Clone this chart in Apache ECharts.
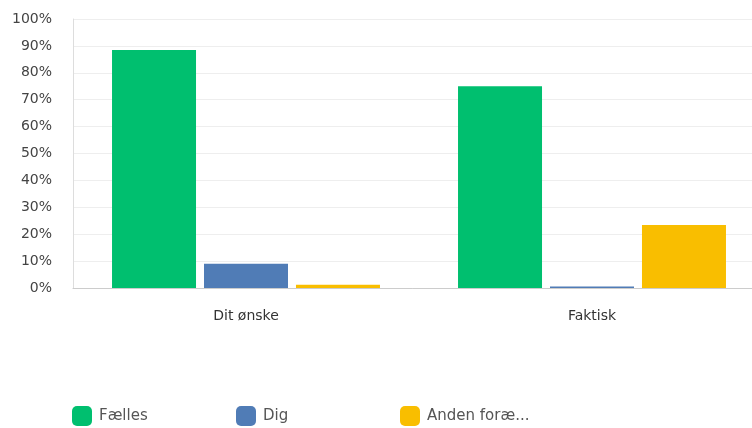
<!DOCTYPE html>
<html><head><meta charset="utf-8">
<script src="https://cdn.jsdelivr.net/npm/echarts@6/dist/echarts.min.js"></script>
<style>html,body{margin:0;padding:0;background:#fff}#c{width:752px;height:428px}</style>
</head><body><div id="c"></div>
<script>
const categories = ['Dit ønske', 'Faktisk'];
const seriesNames = ['Fælles', 'Dig', 'Anden foræ...'];
const faelles = [88.5, 75];
const dig = [9, 0.6];
const anden = [1.2, 23.4];
const yTicks = [0, 10, 20, 30, 40, 50, 60, 70, 80, 90, 100];
const colors = ['#00BF6F', '#507CB6', '#F9BE00'];
const font = 'DejaVu Sans';
const chart = echarts.init(document.getElementById('c'));
const legendLefts = [67, 231, 395];
chart.setOption({
  animation: false,
  grid: { left: 73, top: 19, width: 692, height: 269, containLabel: false, outerBoundsMode: 'none' },
  xAxis: {
    type: 'category', data: categories,
    axisLine: { lineStyle: { color: '#cccccc' } },
    axisTick: { show: false },
    axisLabel: { color: '#333', fontSize: 14, fontFamily: font, margin: 21 }
  },
  yAxis: {
    type: 'value', min: yTicks[0], max: yTicks[yTicks.length - 1], interval: 10,
    axisLine: { show: true, lineStyle: { color: '#dddddd' } },
    axisTick: { show: false },
    splitLine: { lineStyle: { color: '#eeeeee' } },
    axisLabel: { color: '#444', fontSize: 14, fontFamily: font, margin: 21, formatter: v => v + '%' }
  },
  legend: seriesNames.map((n, i) => ({
    data: [n], left: legendLefts[i], top: 401, itemWidth: 20, itemHeight: 20, itemGap: 7,
    icon: 'roundRect', textStyle: { color: '#555', fontSize: 15, fontFamily: font, padding: [4, 0, 0, 2] }
  })),
  series: [faelles, dig, anden].map((d, i) => ({
    name: seriesNames[i], type: 'bar', data: d, barWidth: 84, barGap: '9.5%',
    itemStyle: { color: colors[i] }
  }))
});
</script></body></html>
